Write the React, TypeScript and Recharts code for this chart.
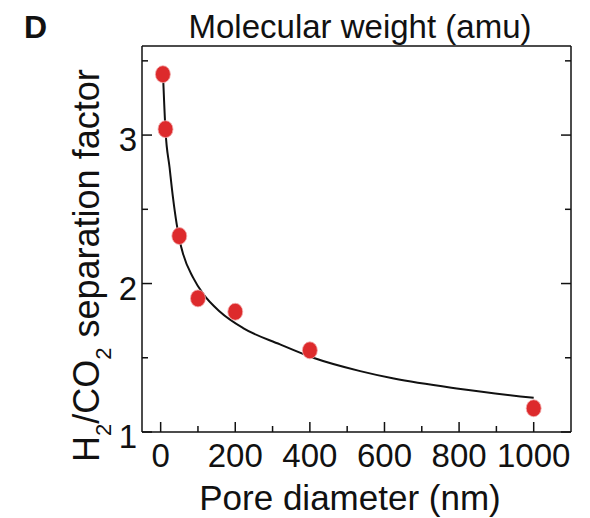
import React from "react"
import {
  ComposedChart,
  Line,
  Scatter,
  XAxis,
  YAxis,
  Label,
} from "recharts"

// measured points (pore diameter nm, H2/CO2 separation factor)
const poreDiameter = [6, 13, 50, 100, 200, 400, 1000]
const separation = [3.41, 3.04, 2.32, 1.9, 1.81, 1.55, 1.16]

// fitted curve
const fitDiameter = [6, 13, 24, 33, 43, 51, 60, 87, 114, 159, 221, 320, 409, 535, 625, 804, 1000]
const fitSeparation = [3.43, 3.03, 2.78, 2.58, 2.4, 2.29, 2.2, 2.04, 1.93, 1.81, 1.7, 1.59, 1.5, 1.41, 1.36, 1.29, 1.23]

const xTicks = [0, 100, 200, 300, 400, 500, 600, 700, 800, 900, 1000]
const xLabels = ["0", "200", "400", "600", "800", "1000"]
const yTicks = [1, 1.5, 2, 2.5, 3, 3.5]
const yLabels = ["1", "2", "3"]

const points = poreDiameter.map((d, i) => ({ d, s: separation[i] }))
const fit = fitDiameter.map((d, i) => ({ d, s: fitSeparation[i] }))

const FONT = "'Liberation Sans', Arial, Helvetica, sans-serif"
const INK = "#111"

const BottomTick = (props: any) => {
  const { x, y, payload } = props
  const label = xLabels.includes(String(payload.value))
  return (
    <g>
      <line x1={x} x2={x} y1={y} y2={y - (label ? 10 : 6)} stroke={INK} strokeWidth={1.5} />
      {label && (
        <text x={x} y={y + 35} textAnchor="middle" fontSize={33} fontFamily={FONT} fill={INK}>
          {payload.value}
        </text>
      )}
    </g>
  )
}

const TopTick = (props: any) => {
  const { x, y, payload } = props
  const major = payload.value % 200 === 0
  return <line x1={x} x2={x} y1={y} y2={y + (major ? 9 : 6)} stroke={INK} strokeWidth={1.5} />
}

const LeftTick = (props: any) => {
  const { x, y, payload } = props
  const label = yLabels.includes(String(payload.value))
  return (
    <g>
      <line x1={x} x2={x + (label ? 10 : 6)} y1={y} y2={y} stroke={INK} strokeWidth={1.5} />
      {label && (
        <text x={x - 5} y={y + 16} textAnchor="end" fontSize={33} fontFamily={FONT} fill={INK}>
          {payload.value}
        </text>
      )}
    </g>
  )
}

const RightTick = (props: any) => {
  const { x, y, payload } = props
  const major = Number.isInteger(payload.value)
  return <line x1={x} x2={x - (major ? 10 : 6)} y1={y} y2={y} stroke={INK} strokeWidth={1.5} />
}

const Dot = (props: any) => {
  const { cx, cy } = props
  return <ellipse cx={cx} cy={cy} rx={7.5} ry={8.5} fill="#dd2a2c" stroke="#f2b0b0" strokeWidth={0.8} />
}

export default function App() {
  return (
    <div style={{ position: "absolute", left: 0, top: 0 }}>
      <ComposedChart
        width={590}
        height={518}
        margin={{ top: 36, right: 9, bottom: 46, left: 82 }}
      >
        <XAxis
          xAxisId="b"
          dataKey="d"
          type="number"
          domain={[-50, 1100]}
          allowDataOverflow
          ticks={xTicks}
          interval={0}
          height={40}
          tickSize={0}
          tickMargin={0}
          tickLine={false}
          axisLine={{ stroke: INK, strokeWidth: 1.5 }}
          tick={<BottomTick />}
        >
          <Label
            content={() => (
              <text x={350} y={510} textAnchor="middle" fontSize={35} fontFamily={FONT} fill={INK}>
                Pore diameter (nm)
              </text>
            )}
          />
        </XAxis>
        <XAxis
          xAxisId="t"
          orientation="top"
          type="number"
          domain={[-50, 1100]}
          allowDataOverflow
          ticks={xTicks}
          interval={0}
          height={10}
          tickSize={0}
          tickMargin={0}
          tickLine={false}
          axisLine={{ stroke: INK, strokeWidth: 1.5 }}
          tick={<TopTick />}
        >
          <Label
            content={() => (
              <g>
                <text x={24} y={38} fontSize={32} fontWeight="bold" fontFamily={FONT} fill={INK}>
                  D
                </text>
                <text x={360} y={38} textAnchor="middle" fontSize={33} fontFamily={FONT} fill={INK}>
                  Molecular weight (amu)
                </text>
              </g>
            )}
          />
        </XAxis>
        <YAxis
          yAxisId="l"
          type="number"
          domain={[1, 3.6]}
          allowDataOverflow
          ticks={yTicks}
          interval={0}
          width={60}
          tickSize={0}
          tickMargin={0}
          tickLine={false}
          axisLine={{ stroke: INK, strokeWidth: 1.5 }}
          tick={<LeftTick />}
        >
          <Label
            content={() => (
              <text
                transform="translate(99, 462) rotate(-90)"
                fontSize={36}
                fontFamily={FONT}
                fill={INK}
              >
                H
                <tspan fontSize={22} dy={12}>2</tspan>
                <tspan dy={-12}>/CO</tspan>
                <tspan fontSize={22} dy={12}>2</tspan>
                <tspan dy={-12}> separation factor</tspan>
              </text>
            )}
          />
        </YAxis>
        <YAxis
          yAxisId="r"
          orientation="right"
          type="number"
          domain={[1, 3.6]}
          allowDataOverflow
          ticks={yTicks}
          interval={0}
          width={10}
          tickSize={0}
          tickMargin={0}
          tickLine={false}
          axisLine={{ stroke: INK, strokeWidth: 1.5 }}
          tick={<RightTick />}
        />
        <Line
          xAxisId="b"
          yAxisId="l"
          data={fit}
          dataKey="s"
          type="monotone"
          stroke={INK}
          strokeWidth={2}
          dot={false}
          activeDot={false}
          isAnimationActive={false}
        />
        <Scatter
          xAxisId="b"
          yAxisId="l"
          data={points}
          dataKey="s"
          shape={<Dot />}
          isAnimationActive={false}
        />
      </ComposedChart>
    </div>
  )
}
